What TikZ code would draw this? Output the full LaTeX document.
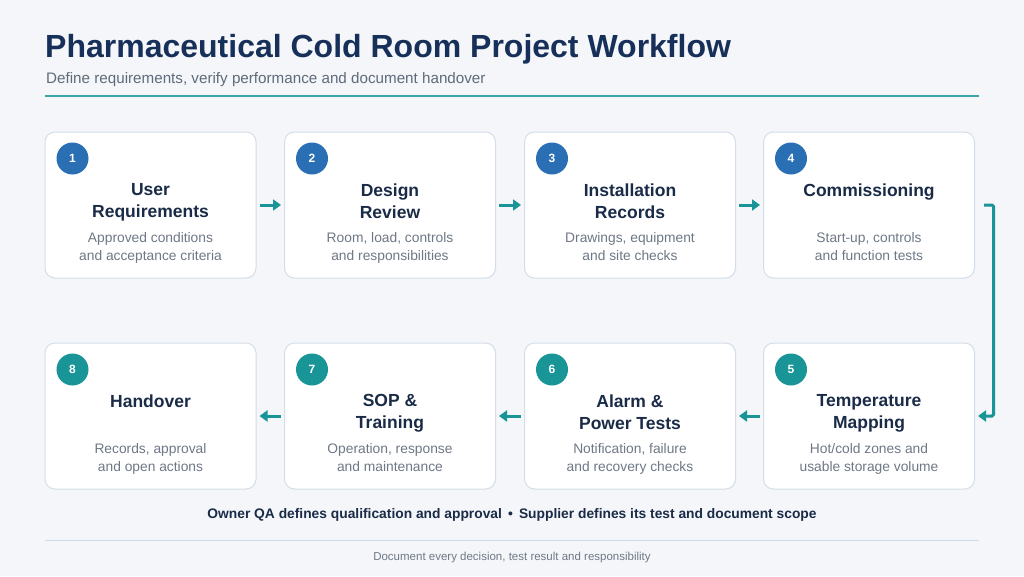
\documentclass[tikz,border=0pt]{standalone}
\usepackage{fontspec}
\setmainfont{Liberation Sans}
\usetikzlibrary{arrows.meta,calc}
\definecolor{bgc}{HTML}{F4F6F9}
\definecolor{navy}{HTML}{16305A}
\definecolor{subgrey}{HTML}{5F6B7A}
\definecolor{ttl}{HTML}{1A2B48}
\definecolor{dgrey}{HTML}{6E7886}
\definecolor{cblue}{HTML}{2A6EB3}
\definecolor{cteal}{HTML}{1A9597}
\definecolor{bord}{HTML}{D3DEE8}
\definecolor{rulec}{HTML}{C9DCEA}
\tikzset{
  card/.style={draw=bord, line width=1pt, fill=white, rounded corners=10pt,
    minimum width=211pt, minimum height=146pt, inner sep=0pt},
  numc/.style={circle, minimum size=32pt, inner sep=0pt, text=white,
    font=\fontsize{12}{12}\selectfont\bfseries},
  numblue/.style={numc, fill=cblue},
  numteal/.style={numc, fill=cteal},
  ctitle/.style={anchor=north, align=center, text=ttl, inner sep=0pt,
    font=\fontsize{17.5}{22}\selectfont\bfseries},
  cdesc/.style={anchor=north, align=center, text=dgrey, inner sep=0pt,
    font=\fontsize{13.8}{18}\selectfont},
  flow/.style={draw=cteal, line width=3pt,
    -{Triangle[length=8pt,width=11pt]}},
}
\begin{document}
\begin{tikzpicture}[x=1pt,y=-1pt]
\fill[bgc] (0,0) rectangle (1024,576);
\useasboundingbox (0,0) rectangle (1024,576);
% header
\node[anchor=base west, inner sep=0pt, text=navy, font=\fontsize{32}{33}\selectfont\bfseries] (title) at (45,57) {Pharmaceutical Cold Room Project Workflow};
\node[anchor=base west, inner sep=0pt, text=subgrey, font=\fontsize{15.2}{16}\selectfont] (subtitle) at (46,83) {Define requirements, verify performance and document handover};
\draw[cteal!85!white, line width=1.8pt] (45,96) coordinate (r1) -- (979,96) coordinate (r2);
% cards
\foreach \i/\x/\y in {1/150.5/205,2/390/205,3/630/205,4/869/205,8/150.5/416,7/390/416,6/630/416,5/869/416}{
  \node[card] (b\i) at (\x,\y) {};
}
\foreach \i in {1,2,3,4}{
  \node[numblue] (n\i) at ($(b\i.north west)+(28,27)$) {\i};
}
\foreach \i in {5,6,7,8}{
  \node[numteal] (n\i) at ($(b\i.north west)+(28,27)$) {\i};
}
% titles
\node[ctitle] (t1) at ($(b1.north)+(0,52)$) {User\\Requirements};
\node[ctitle] (t2) at ($(b2.north)+(0,52)$) {Design\\Review};
\node[ctitle] (t3) at ($(b3.north)+(0,52)$) {Installation\\Records};
\node[ctitle] (t4) at ($(b4.north)+(0,52)$) {Commissioning};
\node[ctitle] (t5) at ($(b5.north)+(0,52)$) {Temperature\\Mapping};
\node[ctitle] (t6) at ($(b6.north)+(0,52)$) {Alarm \&\\Power Tests};
\node[ctitle] (t7) at ($(b7.north)+(0,52)$) {SOP \&\\Training};
\node[ctitle] (t8) at ($(b8.north)+(0,52)$) {Handover};
% descriptions
\node[cdesc] (d1) at ($(b1.north)+(0,101)$) {Approved conditions\\and acceptance criteria};
\node[cdesc] (d2) at ($(b2.north)+(0,101)$) {Room, load, controls\\and responsibilities};
\node[cdesc] (d3) at ($(b3.north)+(0,101)$) {Drawings, equipment\\and site checks};
\node[cdesc] (d4) at ($(b4.north)+(0,101)$) {Start-up, controls\\and function tests};
\node[cdesc] (d5) at ($(b5.north)+(0,101)$) {Hot/cold zones and\\usable storage volume};
\node[cdesc] (d6) at ($(b6.north)+(0,101)$) {Notification, failure\\and recovery checks};
\node[cdesc] (d7) at ($(b7.north)+(0,101)$) {Operation, response\\and maintenance};
\node[cdesc] (d8) at ($(b8.north)+(0,101)$) {Records, approval\\and open actions};
% connectors
\draw[flow] ([xshift=3pt]b1.east) -- ([xshift=-3pt]b2.west);
\draw[flow] ([xshift=3pt]b2.east) -- ([xshift=-3pt]b3.west);
\draw[flow] ([xshift=3pt]b3.east) -- ([xshift=-3pt]b4.west);
\draw[flow, rounded corners=1.5pt] ([xshift=9pt]b4.east) -- ++(9.5,0) |- ([xshift=3pt]b5.east);
\draw[flow] ([xshift=-3pt]b5.west) -- ([xshift=3pt]b6.east);
\draw[flow] ([xshift=-3pt]b6.west) -- ([xshift=3pt]b7.east);
\draw[flow] ([xshift=-3pt]b7.west) -- ([xshift=3pt]b8.east);
% footer
\node[anchor=base, inner sep=0pt, text=ttl, font=\fontsize{13.8}{14}\selectfont\bfseries] (note) at (512,518) {Owner QA defines qualification and approval \,\textbullet\, Supplier defines its test and document scope};
\draw[rulec, line width=1pt] (45,540) coordinate (f1) -- (979,540) coordinate (f2);
\node[anchor=base, inner sep=0pt, text=dgrey, font=\fontsize{11.5}{12}\selectfont] (foot) at (512,560) {Document every decision, test result and responsibility};
\end{tikzpicture}
\end{document}
